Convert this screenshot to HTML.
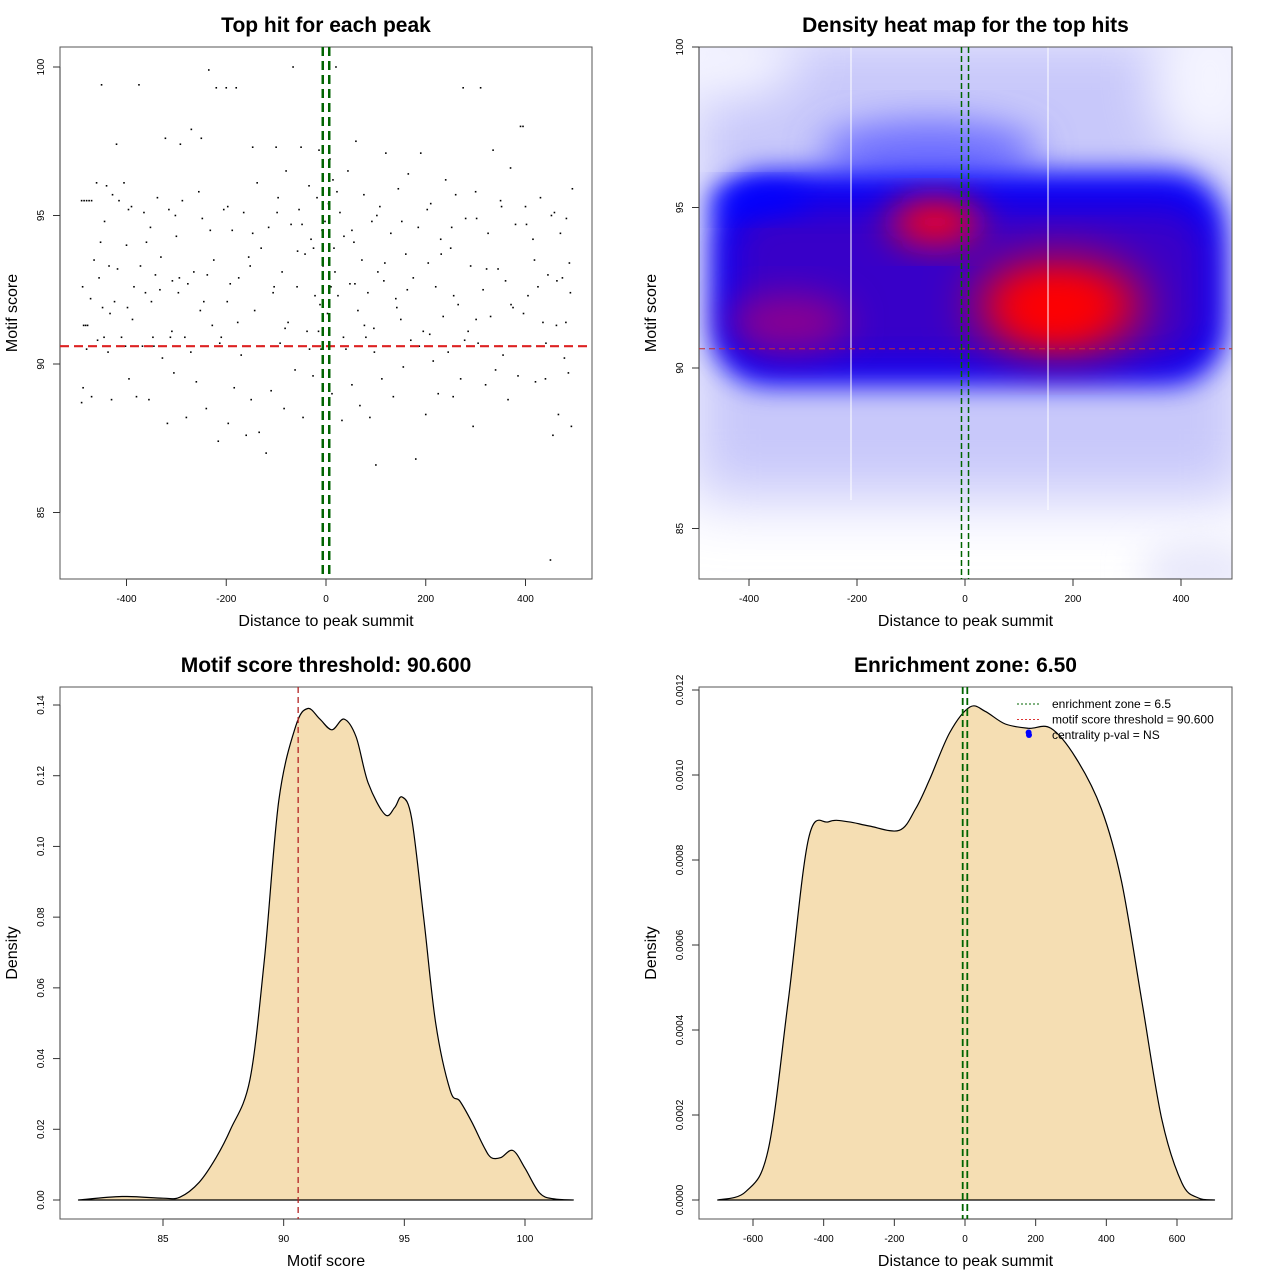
<!DOCTYPE html>
<html><head><meta charset="utf-8"><style>
body{margin:0;background:#fff}
svg{display:block;font-family:"Liberation Sans",Arial,sans-serif}
</style></head><body>
<svg id="s" width="1280" height="1280" viewBox="0 0 1280 1280">
<defs>
<clipPath id="c2"><rect x="699" y="47" width="533" height="532"/></clipPath>
<filter id="b30" x="-50%" y="-50%" width="200%" height="200%"><feGaussianBlur stdDeviation="30"/></filter>
<filter id="b14" x="-50%" y="-50%" width="200%" height="200%"><feGaussianBlur stdDeviation="14"/></filter>
<filter id="b18" x="-50%" y="-50%" width="200%" height="200%"><feGaussianBlur stdDeviation="18"/></filter>
<filter id="b25" x="-50%" y="-50%" width="200%" height="200%"><feGaussianBlur stdDeviation="25"/></filter>
</defs>
<g clip-path="url(#c2)">
<rect x="699" y="47" width="533" height="532" fill="#fff"/>
<rect x="690" y="30" width="560" height="470" fill="#c8c8fa" filter="url(#b30)"/>
<ellipse cx="720" cy="60" rx="80" ry="40" fill="#f4f4ff" filter="url(#b25)"/>
<ellipse cx="1210" cy="80" rx="60" ry="80" fill="#f4f4ff" filter="url(#b25)"/>
<ellipse cx="1200" cy="570" rx="60" ry="30" fill="#e8e8fb" filter="url(#b18)"/>
<ellipse cx="930" cy="150" rx="110" ry="30" fill="#7070ff" filter="url(#b18)"/>
<rect x="712" y="172" width="512" height="212" rx="55" fill="#0000ff" filter="url(#b14)"/>
<rect x="730" y="205" width="480" height="160" rx="45" fill="#3800c8" filter="url(#b18)"/>
<ellipse cx="760" cy="200" rx="50" ry="14" fill="#0000ff" filter="url(#b14)"/>
<ellipse cx="790" cy="322" rx="60" ry="28" fill="#8a0090" filter="url(#b18)"/>
<ellipse cx="935" cy="222" rx="45" ry="22" fill="#ff0018" filter="url(#b18)"/>
<ellipse cx="1060" cy="305" rx="85" ry="45" fill="#ff0000" filter="url(#b25)"/>
<ellipse cx="1055" cy="310" rx="45" ry="25" fill="#ff0000" filter="url(#b18)"/>
<line x1="851" y1="47" x2="851" y2="500" stroke="#fff" stroke-width="1"/>
<line x1="1048" y1="47" x2="1048" y2="510" stroke="#fff" stroke-width="1"/>
</g>
</svg>
<script>
// ---------- data ----------
const scatterX=[-490,-485,-480,-475,-470,-488,-486,-482,-478,-490,-487,-480,-470,-465,-460,-455,-452,-450,-448,-445,-440,-437,-435,-430,-428,-424,-420,-415,-410,-405,-400,-398,-395,-390,-385,-380,-375,-372,-368,-365,-360,-355,-350,-345,-342,-338,-333,-328,-322,-318,-315,-312,-308,-305,-300,-296,-292,-288,-283,-280,-277,-270,-265,-260,-255,-250,-245,-240,-235,-232,-228,-225,-220,-216,-210,-205,-200,-196,-192,-188,-184,-180,-175,-170,-165,-160,-155,-150,-147,-143,-138,-134,-130,-126,-120,-115,-110,-106,-100,-96,-92,-88,-84,-80,-76,-70,-66,-62,-58,-54,-50,-46,-42,-38,-34,-30,-26,-22,-18,-14,-10,-6,-2,3,8,12,16,20,24,28,32,36,40,44,48,52,56,60,64,68,72,76,80,84,88,92,96,100,104,108,112,116,120,125,130,135,140,145,150,155,160,165,170,175,180,185,190,195,200,205,210,215,220,225,230,235,240,245,250,255,260,265,270,275,280,285,290,295,300,305,310,315,320,325,330,335,340,345,350,355,360,365,370,375,380,385,390,395,400,405,410,415,420,425,430,435,440,445,450,455,458,462,466,470,474,478,482,486,490,492,494,488,
-472,-458,-433,-418,-402,-388,-362,-347,-331,-309,-294,-271,-252,-238,-213,-198,-177,-152,-128,-104,-82,-57,-33,-12,6,18,35,58,77,97,118,142,163,187,208,231,256,278,301,322,348,371,396,418,441,463,481,-444,-396,-352,-302,-248,-197,-147,-98,-48,5,52,102,152,203,252,302,352,402,452,-25,-8,10,22,-15,14];
const scatterY=[95.5,95.5,95.5,95.5,95.5,92.6,91.3,91.3,91.3,88.7,89.2,90.5,88.9,93.5,96.1,92.9,94.1,99.4,91.9,90.9,96,90.4,93.3,88.8,95.7,92.1,97.4,95.5,90.9,96.1,94,91.9,89.5,95.3,92.6,88.9,99.4,93.3,90.6,95.1,94.1,88.8,92.1,90.6,93,95.6,92.5,90.2,97.6,88,95.2,90.9,92.8,89.7,94.3,92.4,97.4,95.5,90.9,88.2,92.7,97.9,93.1,89.4,95.8,97.6,92.1,88.5,99.9,94.5,91.3,93.5,99.3,87.4,90.9,95.2,99.3,88,92.7,94.5,89.2,99.3,92.9,90.3,95.1,87.6,93.6,88.8,97.3,91.8,96.1,87.7,93.9,90.6,87,94.6,89.1,92.4,97.3,95.6,90.7,93.1,88.5,96.5,91.4,94.7,100,89.8,92.6,95.2,97.3,88.2,93.7,91.1,96,94.2,89.6,92.3,95.6,97.2,90.5,93.3,94.8,91.7,96.9,89,93.9,100,92.3,95.1,88.1,94.3,90.5,96.5,92.7,89.3,94.1,97.5,91.8,88.6,93.5,95.7,90.9,92.4,88.2,94.8,91.2,86.6,93.1,95.3,89.5,92.8,97.1,90.6,94.4,88.9,92.2,95.9,91.5,89.9,93.7,96.4,90.8,92.9,86.8,94.6,97.1,91.1,88.3,93.4,95.4,90.1,92.6,89,94.2,91.6,96.2,90.4,93.9,88.9,95.7,92,89.5,99.3,94.9,91.1,93.3,87.9,95.8,90.7,99.3,92.5,89.3,94.4,91.6,97.2,89.8,93.2,95.5,90.3,92.8,88.8,96.6,91.9,94.7,89.6,98,98,95.3,92.3,90.6,94.2,89.4,92.6,95.6,91.4,89.5,93,83.4,87.6,95.1,91.3,88.3,94.4,92.9,90.2,94.9,89.7,92.4,87.9,95.9,93.4,
92.2,90.8,91.7,93.2,90.6,91.5,92.4,90.9,93.6,91.1,92.9,90.4,91.8,93.0,90.7,92.1,91.4,93.3,90.6,92.6,91.2,93.8,90.5,92.0,91.6,93.1,90.9,92.7,91.3,90.4,93.4,91.9,92.5,90.6,91.0,93.7,92.3,90.8,91.5,93.2,90.6,92.0,91.7,93.5,90.7,92.8,91.4,94.8,95.2,94.6,95.0,94.9,95.3,94.4,95.1,94.7,95.4,94.5,95.0,94.8,95.2,94.6,94.9,95.3,94.7,95.0,93.9,94.5,92.6,95.8,91.1,96.2];
const scoreX=[81.5,83.3,85,85.7,86.5,87.2,87.8,88.6,89.2,89.8,90.5,91.0,91.5,92.0,92.5,93.0,93.5,94.2,94.6,94.9,95.3,95.8,96.3,96.9,97.3,97.8,98.3,98.6,99.0,99.5,100.0,100.6,101.2,102];
const scoreD=[0,0.001,0.0005,0.0008,0.005,0.012,0.02,0.034,0.068,0.113,0.134,0.139,0.136,0.133,0.136,0.131,0.118,0.109,0.111,0.114,0.108,0.08,0.05,0.031,0.028,0.022,0.015,0.012,0.012,0.014,0.009,0.002,0.0003,0];
const distX=[-700,-620,-557,-500,-443,-386,-330,-271,-186,-140,-100,-43,14,57,114,180,243,314,386,443,500,557,614,660,706];
const distD=[0,0.00002,0.000118,0.00047,0.00085,0.00089,0.00089,0.00088,0.00087,0.00092,0.00099,0.0011,0.00116,0.00115,0.00112,0.00111,0.00111,0.00104,0.00092,0.00075,0.00047,0.00019,0.00004,0.000005,0];
const p1XTicks=[-400,-200,0,200,400], p1YTicks=[85,90,95,100];
const p2XTicks=[-400,-200,0,200,400], p2YTicks=[85,90,95,100];
const p3XTicks=[85,90,95,100], p3YTicks=[0,0.02,0.04,0.06,0.08,0.10,0.12,0.14];
const p3YLabels=["0.00","0.02","0.04","0.06","0.08","0.10","0.12","0.14"];
const p4XTicks=[-600,-400,-200,0,200,400,600], p4YTicks=[0,0.0002,0.0004,0.0006,0.0008,0.0010,0.0012];
const p4YLabels=["0.0000","0.0002","0.0004","0.0006","0.0008","0.0010","0.0012"];
const threshold=90.6, zone=6.5, pvalPoint=[180,0.0011];

// ---------- helpers ----------
const NS="http://www.w3.org/2000/svg", S=document.getElementById('s');
function mk(tag,at,parent){const e=document.createElementNS(NS,tag);for(const k in at)e.setAttribute(k,at[k]);(parent||S).appendChild(e);return e;}
function txt(x,y,s,size,opt){const t=mk('text',Object.assign({x:x,y:y,'font-size':size,'text-anchor':'middle',fill:'#000'},opt||{}));t.textContent=s;return t;}
function smooth(pts){let d='M'+pts[0][0].toFixed(1)+','+pts[0][1].toFixed(1);
  for(let i=0;i<pts.length-1;i++){const p0=pts[Math.max(0,i-1)],p1=pts[i],p2=pts[i+1],p3=pts[Math.min(pts.length-1,i+2)];
    const c1=[p1[0]+(p2[0]-p0[0])/6,p1[1]+(p2[1]-p0[1])/6],c2=[p2[0]-(p3[0]-p1[0])/6,p2[1]-(p3[1]-p1[1])/6];
    d+=' C'+c1[0].toFixed(1)+','+c1[1].toFixed(1)+' '+c2[0].toFixed(1)+','+c2[1].toFixed(1)+' '+p2[0].toFixed(1)+','+p2[1].toFixed(1);}
  return d;}

function panel(name,box,xs,ys,xticks,xlabels,yticks,ylabels,title,xlab,ylab){
  const g=mk('g',{});
  
  
  const r=mk('rect',{x:box.x0,y:box.y0,width:box.x1-box.x0,height:box.y1-box.y0,fill:'none',stroke:'#555','stroke-width':1},g);
  
  
  const xa=mk('g',{},g);
  
  
  mk('line',{x1:xs(xticks[0]),x2:xs(xticks[xticks.length-1]),y1:box.y1,y2:box.y1,stroke:'#333'},xa);
  xticks.forEach((v,i)=>{mk('line',{x1:xs(v),x2:xs(v),y1:box.y1,y2:box.y1+7,stroke:'#333'},xa);
    const t=txt(xs(v),box.y1+23,xlabels[i],10,{});xa.appendChild(t);
    
    });
  const ya=mk('g',{},g);
  
  
  mk('line',{x1:box.x0,x2:box.x0,y1:ys(yticks[0]),y2:ys(yticks[yticks.length-1]),stroke:'#333'},ya);
  yticks.forEach((v,i)=>{mk('line',{x1:box.x0-7,x2:box.x0,y1:ys(v),y2:ys(v),stroke:'#333'},ya);
    const yy=ys(v);const t=txt(box.x0-16,yy,ylabels[i],10,{transform:`rotate(-90 ${box.x0-16} ${yy})`});ya.appendChild(t);
    
    });
  const tt=txt((box.x0+box.x1)/2,32,title,21,{'font-weight':'bold'});
  if(box.y0>600)tt.setAttribute('y',672);
  
  
  const xl=txt((box.x0+box.x1)/2,box.y1+47,xlab,16,{});
  
  
  const cy=(box.y0+box.y1)/2;const cx=box.x0-43;
  const yl=txt(cx,cy,ylab,16,{transform:`rotate(-90 ${cx} ${cy})`});
  
  
  return g;
}
function lin(d0,d1,p0,p1){return v=>p0+(v-d0)*(p1-p0)/(d1-d0);}

// ---------- panel 1 ----------
const b1={x0:60,x1:592,y0:47,y1:579};
const x1=lin(0,400,326,525.5), y1=lin(90,100,364,67);
const g1=panel('scatter-panel',b1,x1,y1,p1XTicks,p1XTicks.map(String),p1YTicks,p1YTicks.map(String),'Top hit for each peak','Distance to peak summit','Motif score');
scatterX.forEach((v,i)=>{if(scatterY[i]===undefined)return;
  const c=mk('rect',{x:x1(v)-0.8,y:y1(scatterY[i])-0.8,width:1.6,height:1.6,fill:'#000'},g1);
  
  });
let l=mk('line',{x1:b1.x0,x2:b1.x1,y1:y1(threshold),y2:y1(threshold),stroke:'#dd2222','stroke-width':2.2,'stroke-dasharray':'9,5'},g1);


[-zone,zone].forEach(z=>{const e=mk('line',{x1:x1(z),x2:x1(z),y1:b1.y0,y2:b1.y1,stroke:'#006400','stroke-width':2.5,'stroke-dasharray':'9,5'},g1);
  
  });

// ---------- panel 2 ----------
const b2={x0:699,x1:1232,y0:47,y1:579};
const x2=lin(0,400,965,1181), y2=lin(90,100,368,47);
const g2=panel('heatmap-panel',b2,x2,y2,p2XTicks,p2XTicks.map(String),p2YTicks,p2YTicks.map(String),'Density heat map for the top hits','Distance to peak summit','Motif score');
l=mk('line',{x1:b2.x0,x2:b2.x1,y1:y2(threshold),y2:y2(threshold),stroke:'#c03030','stroke-width':1,'stroke-dasharray':'6,4'},g2);


[-zone,zone].forEach(z=>{const e=mk('line',{x1:x2(z),x2:x2(z),y1:b2.y0,y2:b2.y1,stroke:'#006400','stroke-width':1.5,'stroke-dasharray':'6,3'},g2);
  
  });

// ---------- panel 3 ----------
const b3={x0:60,x1:592,y0:687,y1:1219};
const x3=lin(85,100,163,525), y3=lin(0,0.14,1200,705);
const g3=panel('score-density-panel',b3,x3,y3,p3XTicks,p3XTicks.map(String),p3YTicks,p3YLabels,'Motif score threshold: 90.600','Motif score','Density');
let d=smooth(scoreX.map((v,i)=>[x3(v),y3(scoreD[i])]))+' Z';
let p=mk('path',{d:d,fill:'#f5deb3',stroke:'#000','stroke-width':1.2,'stroke-linejoin':'round'},g3);


l=mk('line',{x1:x3(threshold),x2:x3(threshold),y1:b3.y0,y2:b3.y1,stroke:'#b22222','stroke-width':1.3,'stroke-dasharray':'6,4'},g3);



// ---------- panel 4 ----------
const b4={x0:699,x1:1232,y0:687,y1:1219};
const x4=lin(0,600,965,1177), y4=lin(0,0.0012,1200,690);
const g4=panel('distance-density-panel',b4,x4,y4,p4XTicks,p4XTicks.map(String),p4YTicks,p4YLabels,'Enrichment zone: 6.50','Distance to peak summit','Density');
d=smooth(distX.map((v,i)=>[x4(v),y4(distD[i])]))+' Z';
p=mk('path',{d:d,fill:'#f5deb3',stroke:'#000','stroke-width':1.2,'stroke-linejoin':'round'},g4);


[-zone,zone].forEach(z=>{const e=mk('line',{x1:x4(z),x2:x4(z),y1:b4.y0,y2:b4.y1,stroke:'#006400','stroke-width':1.8,'stroke-dasharray':'7,4'},g4);
  
  });
const pv=mk('circle',{cx:x4(pvalPoint[0]),cy:y4(pvalPoint[1]),r:3,fill:'#0000ff'},g4);


const lg=mk('g',{},g4);


[['enrichment zone = 6.5','#006400','line'],['motif score threshold = 90.600','#dd3333','line'],['centrality p-val = NS','#0000ff','dot']].forEach((e,i)=>{
  const y=704+i*15.5;
  if(e[2]=='line')mk('line',{x1:1017,x2:1041,y1:y,y2:y,stroke:e[1],'stroke-width':1,'stroke-dasharray':'2,2'},lg);
  else mk('circle',{cx:1029,cy:y,r:3,fill:e[1]},lg);
  const t=txt(1052,y+4,e[0],12,{'text-anchor':'start'});lg.appendChild(t);
  
  
});
</script>
</body></html>
